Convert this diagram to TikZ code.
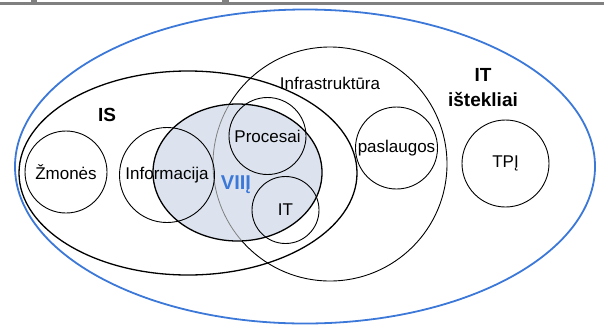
\documentclass[tikz,border=0pt]{standalone}
\usepackage{fontspec}
\setmainfont{Liberation Sans}
\usetikzlibrary{shapes.geometric}
\definecolor{itblue}{HTML}{3C78D8}
\definecolor{viifill}{HTML}{DCE3EE}
\tikzset{
  ring/.style={draw, circle, inner sep=0pt, line width=0.9pt},
  oval/.style={draw, ellipse, inner sep=0pt},
  lbl/.style={font=\fontsize{17}{20}\selectfont},
  biglbl/.style={font=\fontsize{19}{25}\selectfont\bfseries, align=center}
}
\begin{document}
\begin{tikzpicture}[x=1pt, y=-1pt]
\useasboundingbox (0,0) rectangle (604,325);
% page edge
\fill [gray] (0,2) rectangle (604,5);
\fill [gray] (31,0) rectangle (37,2);
\fill [gray] (222,0) rectangle (229,2);

% IT istekliai and IS
\node (res) [oval, draw=itblue, line width=1.8pt, minimum width=580pt, minimum height=314pt] at (305,166.5) {};
\node (is)  [oval, line width=1.3pt, minimum width=338pt, minimum height=204pt] at (188,173) {};

% Infrastruktura
\node (infra) [ring, minimum size=234pt] at (330,164) {};

% VIII
\node (vii) [oval, fill=viifill, line width=1.3pt, minimum width=169pt, minimum height=137pt] at (237.5,172.5) {};
\begin{scope}
  \clip (237.5,172.5) ellipse [x radius=83.8pt, y radius=67.8pt];
  \draw [gray, line width=0.8pt] (infra.center) circle [radius=117pt];
\end{scope}

% Circles
\node (zmones) [ring, lbl, minimum size=82pt] at (66,172)     {Žmonės};
\node (inf)    [ring, lbl, minimum size=95pt] at (167,175)    {Informacija};
\node (proc)   [ring, lbl, minimum size=77pt] at (267.5,136)  {Procesai};
\node (it)     [ring, lbl, minimum size=67pt] at (285.5,210)  {IT};
\node (pasl)   [ring, lbl, minimum size=82pt] at (396.5,148)  {paslaugos};
\node (tpi)    [ring, lbl, minimum size=87pt] at (505.5,163.5) {TPĮ};

% Labels
\node (isl)    [biglbl] at (107,115) {IS};
\node (resl)   [biglbl] at (483,88) {IT\\ištekliai};
\node (infral) [lbl] at (330,83) {Infrastruktūra};
\node (viil)   [biglbl, text=itblue, font=\fontsize{20}{25}\selectfont\bfseries] at (236,185) {VIIĮ};

\end{tikzpicture}
\end{document}
